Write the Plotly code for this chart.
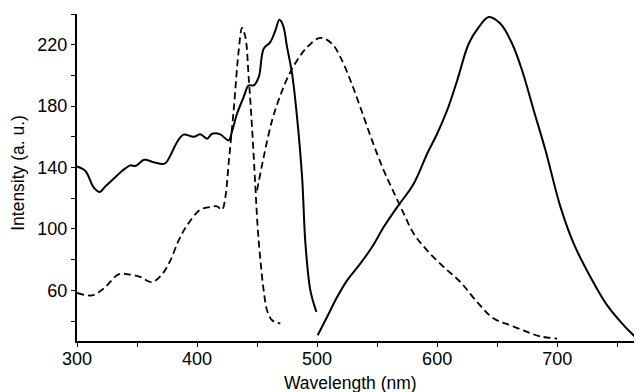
import plotly.graph_objects as go

# Solid curve A (excitation-like, 300-500 nm)
a_x = [300, 307, 314, 319, 323.6, 330.5, 337.5, 344.4, 348.6, 356, 363.8, 373, 377.8, 383.3, 388.8,
       397.2, 402.7, 408.3, 412.5, 419.4, 426.3, 429.2, 433.3, 438.8, 443, 447.2, 451.4, 455.5, 461,
       465.3, 468.6, 471.7, 475, 479.2, 483.3, 487.5, 490.3, 494.4, 499.4]
a_y = [140.7, 137.7, 126.9, 124, 127.7, 132.7, 137.7, 141.4, 141, 145, 143.5, 142.5, 147.9, 156.5, 161.4,
       160, 161.6, 158.8, 162, 161.6, 157.7, 163.7, 175, 185.8, 193.5, 193.5, 198.9, 217.4, 221.7,
       229.3, 236.2, 232.5, 218.4, 201, 172.8, 133.8, 90.4, 60, 46]

# Dashed curve B (300-470 nm)
b_x = [300, 312.5, 322, 334.7, 343, 352.7, 362.5, 370.8, 377.8, 384.7, 391.7, 402.7, 411, 416.7, 420.8,
       423.6, 426.3, 430.5, 434.7, 437.5, 440.3, 443, 445.8, 448.6, 450.5, 452.8, 455.5, 458.3, 462.5, 469.4]
b_y = [58.3, 56.7, 61, 70.4, 70.4, 68.7, 65.4, 70.4, 79.5, 92.6, 102.3, 112.5, 114.2, 114.7, 112.5,
       120.7, 142.5, 177.2, 216.2, 231, 224.9, 198.9, 166.3, 127.3, 101.2, 79.5, 60, 47, 40.5, 38.3]

# Dashed curve C (450-700 nm)
c_x = [450, 455.5, 462.5, 469.4, 476.3, 483.3, 491.7, 502.7, 512.5, 519.4, 527.8, 536, 545.8, 555.5,
       563.8, 572.2, 580.5, 591.7, 605.5, 619.4, 633.3, 647.2, 661.1, 675, 686, 700]
c_y = [125.1, 146.8, 170.7, 187, 200, 209.7, 218.4, 224.5, 220.6, 211.9, 196.7, 179.3, 157.7, 138.1,
       124, 110, 96.9, 86, 75.2, 65.4, 52.4, 41.6, 37.2, 32.9, 30, 28.6]

# Solid curve D (500-770 nm)
d_x = [500.5, 508.3, 516.7, 525, 536, 545.8, 555.5, 566.7, 580.5, 591.7, 600, 608.3, 616.7, 626.3,
       634.7, 643, 652.8, 662.5, 670.8, 680.5, 690.3, 702.8, 713.8, 727.7, 741.7, 755.5, 768]
d_y = [30.7, 42.6, 55.6, 66.5, 77.4, 88.2, 101.2, 114.2, 129.5, 149, 162, 177.2, 196.7, 220.6,
       231.4, 238, 233.6, 220.6, 203.2, 177.2, 151.1, 114.2, 90.4, 68.7, 50.2, 37.2, 27.4]

x_tickvals = [300, 400, 500, 600, 700]
y_tickvals = [60, 100, 140, 180, 220]
x_title = "Wavelength (nm)"
y_title = "Intensity (a. u.)"

fig = go.Figure()
solid = dict(color="black", width=2)
dashed = dict(color="black", width=1.8, dash="7px,4px")
fig.add_trace(go.Scatter(x=a_x, y=a_y, mode="lines", line=solid, line_shape="spline"))
fig.add_trace(go.Scatter(x=b_x, y=b_y, mode="lines", line=dashed, line_shape="spline"))
fig.add_trace(go.Scatter(x=c_x, y=c_y, mode="lines", line=dashed, line_shape="spline"))
fig.add_trace(go.Scatter(x=d_x, y=d_y, mode="lines", line=solid, line_shape="spline"))

tickfont = dict(family="Liberation Sans, Arial, sans-serif", size=18, color="black")
titlefont = dict(family="Liberation Sans, Arial, sans-serif", size=17.5, color="black")
# the page body has an 8px margin, so the figure is made 8px smaller and margins shifted
fig.update_layout(
    width=634, height=384,
    margin=dict(l=69, r=2, t=6, b=51, autoexpand=False),
    paper_bgcolor="white", plot_bgcolor="white",
    showlegend=False,
    font=tickfont,
    annotations=[
        dict(text=x_title, xref="paper", yref="paper", x=0.485, y=-0.128,
             xanchor="center", yanchor="middle", showarrow=False, font=titlefont),
        dict(text=y_title, xref="paper", yref="paper", x=-0.105, y=0.514, textangle=-90,
             xanchor="center", yanchor="middle", showarrow=False, font=titlefont),
    ],
)
fig.update_xaxes(
    range=[300, 769], tickvals=x_tickvals, ticktext=[str(v) for v in x_tickvals],
    showline=True, linecolor="black", linewidth=2, showgrid=False, zeroline=False,
    ticks="outside", ticklen=4, tickwidth=1.2, tickcolor="black", automargin=False,
    ticklabelstandoff=-4,
    minor=dict(tick0=350, dtick=100, ticks="outside", ticklen=4, tickwidth=1.2, tickcolor="black", showgrid=False),
    tickfont=tickfont,
)
fig.update_yaxes(
    range=[27, 240], tickvals=y_tickvals, ticktext=[str(v) for v in y_tickvals],
    showline=True, linecolor="black", linewidth=2, showgrid=False, zeroline=False,
    ticks="outside", ticklen=4, tickwidth=1.2, tickcolor="black", automargin=False,
    minor=dict(tick0=40, dtick=40, ticks="outside", ticklen=4, tickwidth=1.2, tickcolor="black", showgrid=False),
    tickfont=tickfont,
)
fig.write_html("out.html")
